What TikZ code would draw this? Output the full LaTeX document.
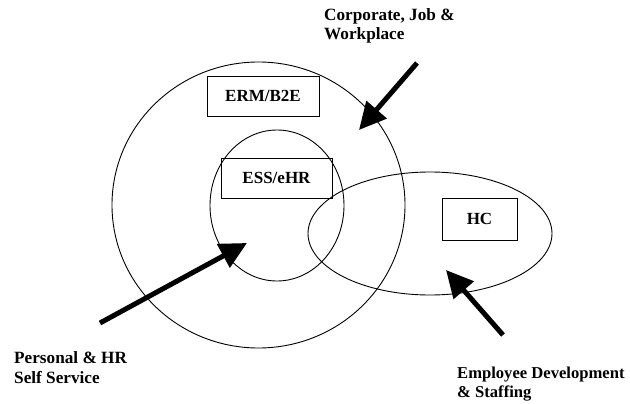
\documentclass[tikz,border=0pt]{standalone}
\usepackage{fontspec}
\setmainfont{Liberation Serif}
\usetikzlibrary{shapes.geometric,arrows.meta}
\begin{document}
\begin{tikzpicture}[x=1pt,y=-1pt,
  ring/.style={draw, ellipse, line width=0.9pt, inner sep=0pt},
  lblbox/.style={draw, rectangle, line width=0.9pt, inner sep=0pt,
     font=\bfseries\fontsize{17}{19.5}\selectfont},
  lbl/.style={inner sep=0pt, align=left, anchor=base west,
     font=\bfseries\fontsize{17.2}{19.5}\selectfont},
  bigarrow/.style={line width=5pt, -{Triangle[length=27pt,width=26pt]}}]
\useasboundingbox[fill=white] (0,0) rectangle (630,404);
% ellipses
\node[ring, minimum width=293pt, minimum height=286pt] (outer) at (258.5,205) {};
\node[ring, minimum width=134pt, minimum height=151pt] (inner) at (277,205.5) {};
\node[ring, minimum width=244pt, minimum height=123pt] (hcell) at (430,233.5) {};
% boxes
\node[lblbox, minimum width=112pt, minimum height=40pt] (erm) at (263,96) {ERM/B2E};
\node[lblbox, minimum width=111pt, minimum height=40pt] (ess) at (276.5,178) {ESS/eHR};
\node[lblbox, minimum width=75pt, minimum height=42pt] (hc) at (479.5,219) {HC};
% labels (anchor = baseline of last line)
\node[lbl] (corp) at (324,40) {Corporate, Job \&\\Workplace};
\node[lbl] (pers) at (14,383) {Personal \& HR\\Self Service};
\node[lbl, font=\bfseries\fontsize{16.6}{19}\selectfont] (empl) at (457,397) {Employee Development\\\& Staffing};
% arrows
\coordinate (corpT) at (417,63);
\coordinate (corpH) at (359,130);
\coordinate (persT) at (100,323);
\coordinate (persH) at (247,243);
\coordinate (emplT) at (503,335);
\coordinate (emplH) at (446,270);
\draw[bigarrow] (corpT) -- (corpH);
\draw[bigarrow] (persT) -- (persH);
\draw[bigarrow] (emplT) -- (emplH);
\end{tikzpicture}
\end{document}
